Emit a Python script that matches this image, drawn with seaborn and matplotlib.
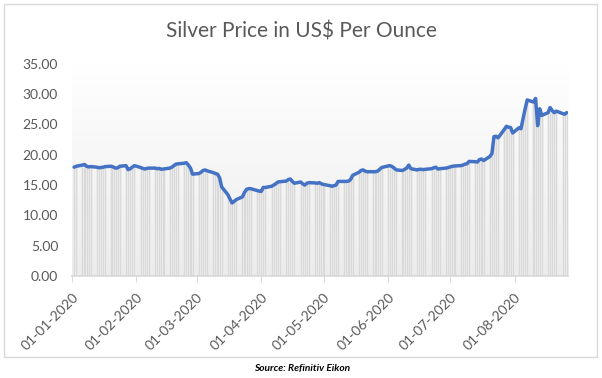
import numpy as np
import pandas as pd
import seaborn as sns
import matplotlib.pyplot as plt
import matplotlib.dates as mdates
from matplotlib.colors import LinearSegmentedColormap
from matplotlib.patches import Rectangle

# silver price (US$/oz), one value per trading day
jan_prices = [17.95, 18.10, 18.30, 18.40, 18.10, 18.00, 18.05, 17.95, 17.85, 17.90, 17.95,
              18.05, 18.10, 17.95, 17.80, 17.85, 18.10, 18.20, 17.55, 17.70, 17.95, 18.20]
feb_prices = [17.90, 17.75, 17.65, 17.75, 17.80, 17.80, 17.70, 17.75, 17.60, 17.65,
              17.80, 17.95, 18.20, 18.45, 18.50, 18.60, 18.70, 18.30, 17.80, 16.80]
mar_prices = [16.90, 17.10, 17.40, 17.50, 17.35, 17.05, 16.90, 16.80, 16.20, 14.70, 13.40,
              12.70, 12.05, 12.30, 12.60, 13.05, 13.80, 14.30, 14.40, 14.40, 14.10, 14.00]
apr_prices = [13.95, 14.60, 14.60, 14.80, 15.00, 15.20, 15.50, 15.55, 15.65, 15.90, 16.00,
              15.60, 15.30, 15.50, 15.20, 15.00, 15.30, 15.40, 15.35, 15.30, 15.40, 15.20]
may_prices = [15.10, 14.90, 14.80, 14.90, 15.00, 15.60, 15.60, 15.60, 15.65, 15.90, 16.60,
              17.10, 17.40, 17.50, 17.30, 17.20, 17.20, 17.20, 17.30, 17.60, 17.90]
jun_prices = [18.15, 18.20, 18.05, 17.80, 17.50, 17.40, 17.60, 17.80, 18.30, 17.70, 17.50,
              17.60, 17.60, 17.55, 17.60, 17.70, 17.85, 17.95, 17.65, 17.70, 17.80, 17.90]
jul_prices = [18.00, 18.10, 18.15, 18.20, 18.30, 18.45, 18.50, 18.90, 18.85, 18.80, 19.20, 19.30,
              19.05, 19.70, 20.20, 23.00, 23.05, 22.80, 24.20, 24.70, 24.55, 24.50, 23.60]
aug_prices = [24.45, 24.30, 26.00, 27.60, 29.05, 28.70, 29.30, 24.80, 27.60, 26.50,
              26.95, 27.80, 27.30, 26.95, 27.20, 26.80, 26.70, 26.95]

trading_days = pd.bdate_range("2020-01-02", "2020-08-26")
prices = (jan_prices + feb_prices + mar_prices + apr_prices
          + may_prices + jun_prices + jul_prices + aug_prices)

df = pd.DataFrame({"date": trading_days, "price": prices})

sns.set_theme(style="white")
plt.rcParams["font.family"] = ["Lato", "DejaVu Sans"]

fig = plt.figure(figsize=(6.02, 3.78), dpi=100)
ax = fig.add_axes([0.1196, 0.270, 0.824, 0.561])

# bars under the line, one per trading day
ax.bar(df["date"], df["price"], width=1.0, color="#dadada",
       edgecolor="#efefef", linewidth=0.4, zorder=1)
sns.lineplot(data=df, x="date", y="price", ax=ax, color="#4472C4",
             linewidth=2.5, zorder=3)

# soft gradient behind the plot area
bg = LinearSegmentedColormap.from_list("bg", ["#ececec", "#ffffff"])
ax.imshow(np.linspace(0, 1, 256).reshape(-1, 1), cmap=bg, origin="lower",
          extent=(0, 1, 0, 1), transform=ax.transAxes, aspect="auto", zorder=0)

ax.set_xlim(pd.Timestamp("2020-01-01"), pd.Timestamp("2020-08-26 15:00"))
ax.set_ylim(0, 35)
ax.set_yticks(np.arange(0, 36, 5))
ax.yaxis.set_major_formatter(plt.FormatStrFormatter("%.2f"))
ax.xaxis.set_major_locator(mdates.MonthLocator())
ax.xaxis.set_major_formatter(mdates.DateFormatter("%d-%m-%Y"))

ax.tick_params(axis="x", length=4, width=0.8, color="#d9d9d9", pad=7,
               labelsize=10, labelcolor="#595959", bottom=True)
ax.tick_params(axis="y", length=0, pad=10, labelsize=10, labelcolor="#595959")
for lbl in ax.get_xticklabels():
    lbl.set_rotation(45)
    lbl.set_ha("right")
    lbl.set_rotation_mode("anchor")

sns.despine(ax=ax, left=True)
ax.spines["bottom"].set_color("#d9d9d9")
ax.set_xlabel("")
ax.set_ylabel("")

fig.text(0.5, 1 - 32 / 378, "Silver Price in US$ Per Ounce", ha="center",
         va="center", fontsize=15, color="#595959")
fig.text(0.502, 1 - 368 / 378, "Source: Refinitiv Eikon", ha="center",
         va="center", fontsize=7.3, fontweight="bold", style="italic", color="black")

# chart border
fig.patches.append(Rectangle((4 / 602, 1 - 357 / 378), 593 / 602, 353 / 378,
                             transform=fig.transFigure, fill=False,
                             edgecolor="#d9d9d9", linewidth=1))

fig.savefig("out.png", dpi=100)
